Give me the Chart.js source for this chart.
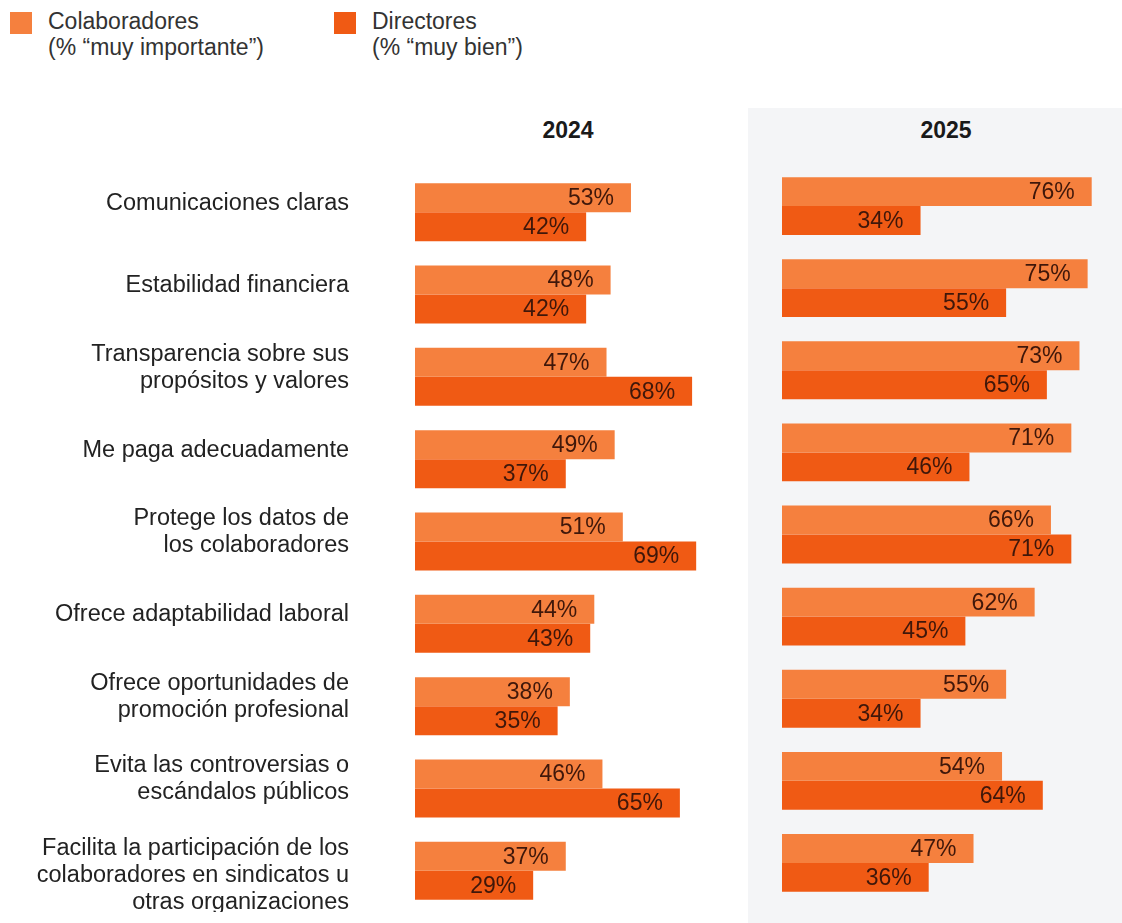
<!DOCTYPE html>
<html>
<head>
<meta charset="utf-8">
<script src="https://cdn.jsdelivr.net/npm/chart.js@4"></script>
<style>
  body { margin: 0; width: 1122px; height: 923px; background: #fff; position: relative; overflow: hidden;
         font-family: "Liberation Sans", Arial, sans-serif; }
  .panel { position: absolute; left: 748px; top: 108px; width: 374px; height: 815px; background: #f4f5f7; }
  .year { position: absolute; top: 117px; font-weight: bold; font-size: 23px; line-height: 26px; color: #1a1a1a; width: 200px; text-align: center; }
  .leg { position: absolute; top: 8px; font-size: 23px; line-height: 26px; color: #333; white-space: nowrap; }
  .leg i { position: absolute; left: -38px; top: 4px; width: 22px; height: 22px; }
  canvas { position: absolute; }
</style>
</head>
<body>
<div class="panel"></div>
<div class="leg" style="left:48px"><i style="background:#f5803e"></i>Colaboradores<br>(% “muy importante”)</div>
<div class="leg" style="left:372px"><i style="background:#f05a14"></i>Directores<br>(% “muy bien”)</div>
<div class="year" style="left:468px">2024</div>
<div class="year" style="left:846px">2025</div>

<div style="position:absolute;left:0;top:171px;width:741px;height:741px"><canvas id="c2024"></canvas></div>
<div style="position:absolute;left:782px;top:165px;width:326px;height:739px"><canvas id="c2025"></canvas></div>

<script>
let categories = [
  'Comunicaciones claras',
  'Estabilidad financiera',
  ['Transparencia sobre sus', 'propósitos y valores'],
  'Me paga adecuadamente',
  ['Protege los datos de', 'los colaboradores'],
  'Ofrece adaptabilidad laboral',
  ['Ofrece oportunidades de', 'promoción profesional'],
  ['Evita las controversias o', 'escándalos públicos'],
  // leading blank line pushes this 3-line label down a bit, like the original
  ['', 'Facilita la participación de los', 'colaboradores en sindicatos u', 'otras organizaciones']
];
let colab2024 = [53, 48, 47, 49, 51, 44, 38, 46, 37];
let direc2024 = [42, 42, 68, 37, 69, 43, 35, 65, 29];
let colab2025 = [76, 75, 73, 71, 66, 62, 55, 54, 47];
let direc2025 = [34, 55, 65, 46, 71, 45, 34, 64, 36];

let lightOrange = '#f5803e';
let darkOrange = '#f05a14';

// value labels inside the end of each bar
let valueLabels = {
  id: 'valueLabels',
  afterDatasetsDraw(chart) {
    let ctx = chart.ctx;
    ctx.save();
    ctx.font = '23px "Liberation Sans", Arial, sans-serif';
    ctx.fillStyle = '#3f170a';
    ctx.textAlign = 'right';
    ctx.textBaseline = 'middle';
    chart.data.datasets.forEach((ds, i) => {
      chart.getDatasetMeta(i).data.forEach((bar, j) => {
        ctx.fillText(ds.data[j] + '%', bar.x - 17, bar.y + 1);
      });
    });
    ctx.restore();
  }
};

function makeChart(id, colab, direc, showLabels) {
  new Chart(document.getElementById(id), {
    type: 'bar',
    data: {
      labels: categories,
      datasets: [
        { label: 'Colaboradores', data: colab, backgroundColor: lightOrange },
        { label: 'Directores', data: direc, backgroundColor: darkOrange }
      ]
    },
    options: {
      indexAxis: 'y',
      responsive: true,
      maintainAspectRatio: false,
      animation: false,
      layout: { padding: 0 },
      datasets: { bar: { barPercentage: 1, categoryPercentage: 0.704 } },
      plugins: { legend: { display: false }, tooltip: { enabled: false } },
      scales: {
        x: { display: false, min: 0, max: 80 },
        y: {
          display: showLabels,
          grid: { display: false, drawTicks: false },
          border: { display: false },
          ticks: {
            padding: 66,
            labelOffset: -9,
            autoSkip: false,
            color: '#222',
            font: { family: '"Liberation Sans", Arial, sans-serif', size: 23.5, lineHeight: 1.15 }
          },
          afterFit(scale) {
            if (!showLabels) return;
            scale.width = 415;
            scale.paddingTop = 0;
            scale.paddingBottom = 0;
          }
        }
      }
    },
    plugins: [valueLabels]
  });
}

makeChart('c2024', colab2024, direc2024, true);
makeChart('c2025', colab2025, direc2025, false);
</script>
</body>
</html>
